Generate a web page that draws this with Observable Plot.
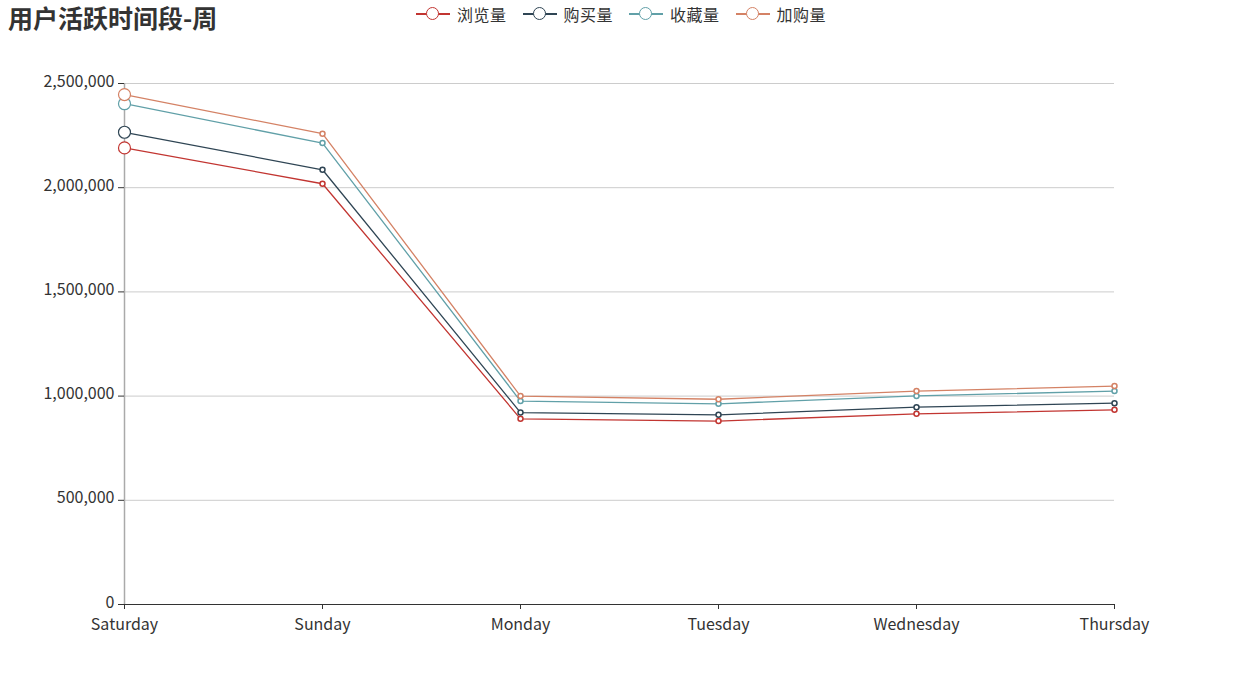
<!DOCTYPE html>
<html>
<head>
<meta charset="utf-8">
<script src="https://cdn.jsdelivr.net/npm/d3@7"></script>
<script src="https://cdn.jsdelivr.net/npm/@observablehq/plot@0.6"></script>
<style>
  html, body { margin: 0; padding: 0; background: #fff; }
  #wrap { position: relative; width: 1237px; height: 687px; font-family: "Noto Sans CJK SC", "Noto Sans", sans-serif; }
  #header { position: relative; width: 1237px; height: 40px; }
  #title { position: absolute; left: 8px; top: 0; line-height: 35px; font-size: 25px; font-weight: bold; color: #333; white-space: nowrap; }
  #legend { position: absolute; left: 416px; top: 0; height: 28px; display: flex; align-items: center; }
  .item { display: flex; align-items: center; margin-right: 16px; height: 28px; }
  .icon { position: relative; width: 34px; height: 28px; margin-right: 7px; }
  .icon .ln { position: absolute; left: 0; top: 13px; width: 34px; height: 1.5px; }
  .icon .cc { position: absolute; left: 10px; top: 7px; width: 11px; height: 11px; border-radius: 50%; border: 1.5px solid; background: #fff; }
  .label { font-size: 16px; color: #333; line-height: 28px; letter-spacing: 0.5px; }
  svg { display: block; }
</style>
</head>
<body>
<div id="wrap">
  <div id="header">
    <div id="title">用户活跃时间段-周</div>
    <div id="legend"></div>
  </div>
  <div id="chart"></div>
</div>
<script>
const days = ["Saturday", "Sunday", "Monday", "Tuesday", "Wednesday", "Thursday"];
const seriesNames = ["浏览量", "购买量", "收藏量", "加购量"];
const seriesColors = ["#c23531", "#2f4554", "#61a0a8", "#d48265"];
const views = [2191000, 2019000, 891000, 880000, 915000, 934000];
const buys = [2266000, 2086000, 921000, 910000, 947000, 966000];
const favs = [2403000, 2214000, 976000, 963000, 1001000, 1024000];
const carts = [2447000, 2259000, 1000000, 985000, 1024000, 1048000];
const yTicks = [0, 500000, 1000000, 1500000, 2000000, 2500000];

const seriesValues = [views, buys, favs, carts];
const data = [];
seriesNames.forEach((name, i) => {
  days.forEach((d, j) => data.push({series: name, day: d, value: seriesValues[i][j]}));
});

// legend
const legend = document.getElementById("legend");
seriesNames.forEach((name, i) => {
  const item = document.createElement("div");
  item.className = "item";
  item.innerHTML = `<div class="icon"><div class="ln" style="background:${seriesColors[i]}"></div><div class="cc" style="border-color:${seriesColors[i]}"></div></div><span class="label">${name}</span>`;
  legend.appendChild(item);
});

const chart = Plot.plot({
  width: 1237,
  height: 647,
  marginLeft: 124,
  marginRight: 123,
  marginTop: 43,
  marginBottom: 83,
  style: {fontFamily: '"Noto Sans CJK SC", "Noto Sans", sans-serif', fontSize: "16px", color: "#333", background: "#fff"},
  x: {type: "point", domain: days, padding: 0, label: null},
  y: {domain: [0, 2500000], label: null},
  color: {domain: seriesNames, range: seriesColors},
  marks: [
    Plot.ruleY(yTicks.filter(d => d > 0), {stroke: "#ccc", strokeWidth: 1}),
    Plot.ruleX([days[0]], {y1: 0, y2: 2500000, stroke: "#aaa", strokeWidth: 1.5}),
    Plot.axisY({ticks: yTicks, tickFormat: () => "", tickSize: 6, stroke: "#333", label: null}),
    Plot.axisY({ticks: yTicks, tickFormat: d3.format(","), tickSize: 0, tickPadding: 10, fill: "#333", fontSize: 16, dy: -2, label: null}),
    Plot.axisX({tickSize: 5, tickPadding: 9, stroke: "#333", fill: "#333", fontSize: 16, label: null}),
    Plot.ruleY([0], {stroke: "#333", strokeWidth: 1}),
    Plot.line(data, {x: "day", y: "value", z: "series", stroke: "series", strokeWidth: 1.3}),
    Plot.dot(data, {filter: d => d.day !== days[0], x: "day", y: "value", r: 2.5, fill: "#fff", stroke: "series", strokeWidth: 1.5}),
    Plot.dot(data, {filter: d => d.day === days[0], x: "day", y: "value", r: 6, fill: "#fff", stroke: "series", strokeWidth: 1.2})
  ]
});
document.getElementById("chart").appendChild(chart);
</script>
</body>
</html>
